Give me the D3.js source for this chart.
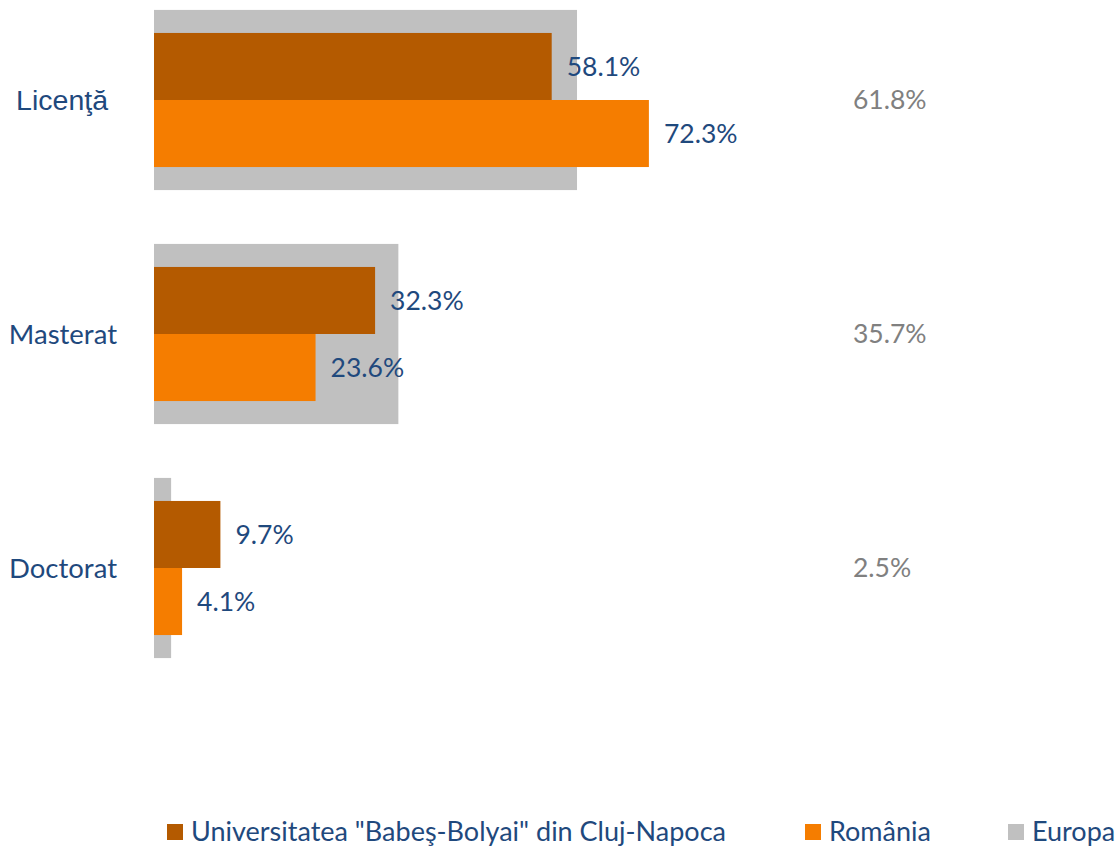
<!DOCTYPE html>
<html>
<head>
<meta charset="utf-8">
<script src="https://cdn.jsdelivr.net/npm/d3@7"></script>
<style>
  body { margin: 0; background: #fff; }
  svg { display: block; }
</style>
</head>
<body>
<div class="viz"></div>
<script>
const width = 1120;
const height = 846;

// data
const categories = ["Licenţă", "Masterat", "Doctorat"];
const ubbValues = [58.1, 32.3, 9.7];
const romaniaValues = [72.3, 23.6, 4.1];
const europeValues = [61.8, 35.7, 2.5];
const seriesNames = ["Universitatea \"Babeş-Bolyai\" din Cluj-Napoca", "România", "Europa"];

const colors = {
    ubb: "#b45a00",
    ro: "#f57d00",
    eu: "#c0c0c0"
};
const textBlue = "#1f497d";
const textGray = "#808080";
const labelFont = "Lato, 'Open Sans', sans-serif";

const svg = d3.select(".viz")
    .append("svg")
    .attr("width", width)
    .attr("height", height);

// scales
const x = d3.scaleLinear()
    .domain([0, 100])
    .range([154, 838.5]);

const y = d3.scaleBand()
    .domain(categories)
    .range([-17, 685])
    .padding(0);

const bw = y.bandwidth();
const euH = bw * 0.77;
const innerH = bw * 0.573;

const inner = d3.scaleBand()
    .domain(["ubb", "ro"])
    .range([0, innerH]);

const rows = categories.map((c, i) => ({
    cat: c,
    ubb: ubbValues[i],
    ro: romaniaValues[i],
    eu: europeValues[i]
}));

// Europe background bars
svg.selectAll(".eu")
    .data(rows)
    .enter()
    .append("rect")
    .attr("class", "eu")
    .attr("x", x(0))
    .attr("y", d => y(d.cat) + (bw - euH) / 2)
    .attr("width", d => x(d.eu) - x(0))
    .attr("height", euH)
    .style("fill", colors.eu);

// UBB + Romania bars
["ubb", "ro"].forEach(key => {
    const g = svg.append("g");
    g.selectAll("rect")
        .data(rows)
        .enter()
        .append("rect")
        .attr("x", x(0))
        .attr("y", d => y(d.cat) + (bw - innerH) / 2 + inner(key))
        .attr("width", d => x(d[key]) - x(0))
        .attr("height", inner.bandwidth())
        .style("fill", colors[key]);

    g.selectAll("text")
        .data(rows)
        .enter()
        .append("text")
        .attr("x", d => x(d[key]) + 15)
        .attr("y", d => y(d.cat) + (bw - innerH) / 2 + inner(key) + inner.bandwidth() / 2)
        .attr("dy", "0.35em")
        .style("font-family", labelFont)
        .style("font-size", "26.5px")
        .style("fill", textBlue)
        .text(d => d[key].toFixed(1) + "%");
});

// Europe value labels
svg.selectAll(".eu-label")
    .data(rows)
    .enter()
    .append("text")
    .attr("class", "eu-label")
    .attr("x", 853)
    .attr("y", d => y(d.cat) + bw / 2)
    .attr("dy", "0.35em")
    .style("font-family", labelFont)
    .style("font-size", "26.5px")
    .style("fill", textGray)
    .text(d => d.eu.toFixed(1) + "%");

// category labels
svg.selectAll(".cat")
    .data(categories)
    .enter()
    .append("text")
    .attr("class", "cat")
    .attr("x", (d, i) => i === 0 ? 108 : 117)
    .attr("y", d => y(d) + bw / 2)
    .attr("dy", "0.35em")
    .attr("text-anchor", "end")
    .style("font-family", (d, i) => i === 0 ? "'Liberation Sans', Arial, sans-serif" : labelFont)
    .style("font-size", (d, i) => i === 0 ? "28.5px" : "27.5px")
    .style("fill", textBlue)
    .text(d => d);

// legend
const legendX = [167, 805, 1008];
const legendKeys = ["ubb", "ro", "eu"];
const legend = svg.selectAll(".legend")
    .data(seriesNames)
    .enter()
    .append("g")
    .attr("class", "legend")
    .attr("transform", (d, i) => `translate(${legendX[i]},832)`);

legend.append("rect")
    .attr("x", 0)
    .attr("y", -8)
    .attr("width", 16)
    .attr("height", 16)
    .style("fill", (d, i) => colors[legendKeys[i]]);

legend.append("text")
    .attr("x", 24)
    .attr("y", 0)
    .attr("dy", "0.35em")
    .style("font-family", labelFont)
    .style("font-size", "27px")
    .style("fill", textBlue)
    .text(d => d);
</script>
</body>
</html>
